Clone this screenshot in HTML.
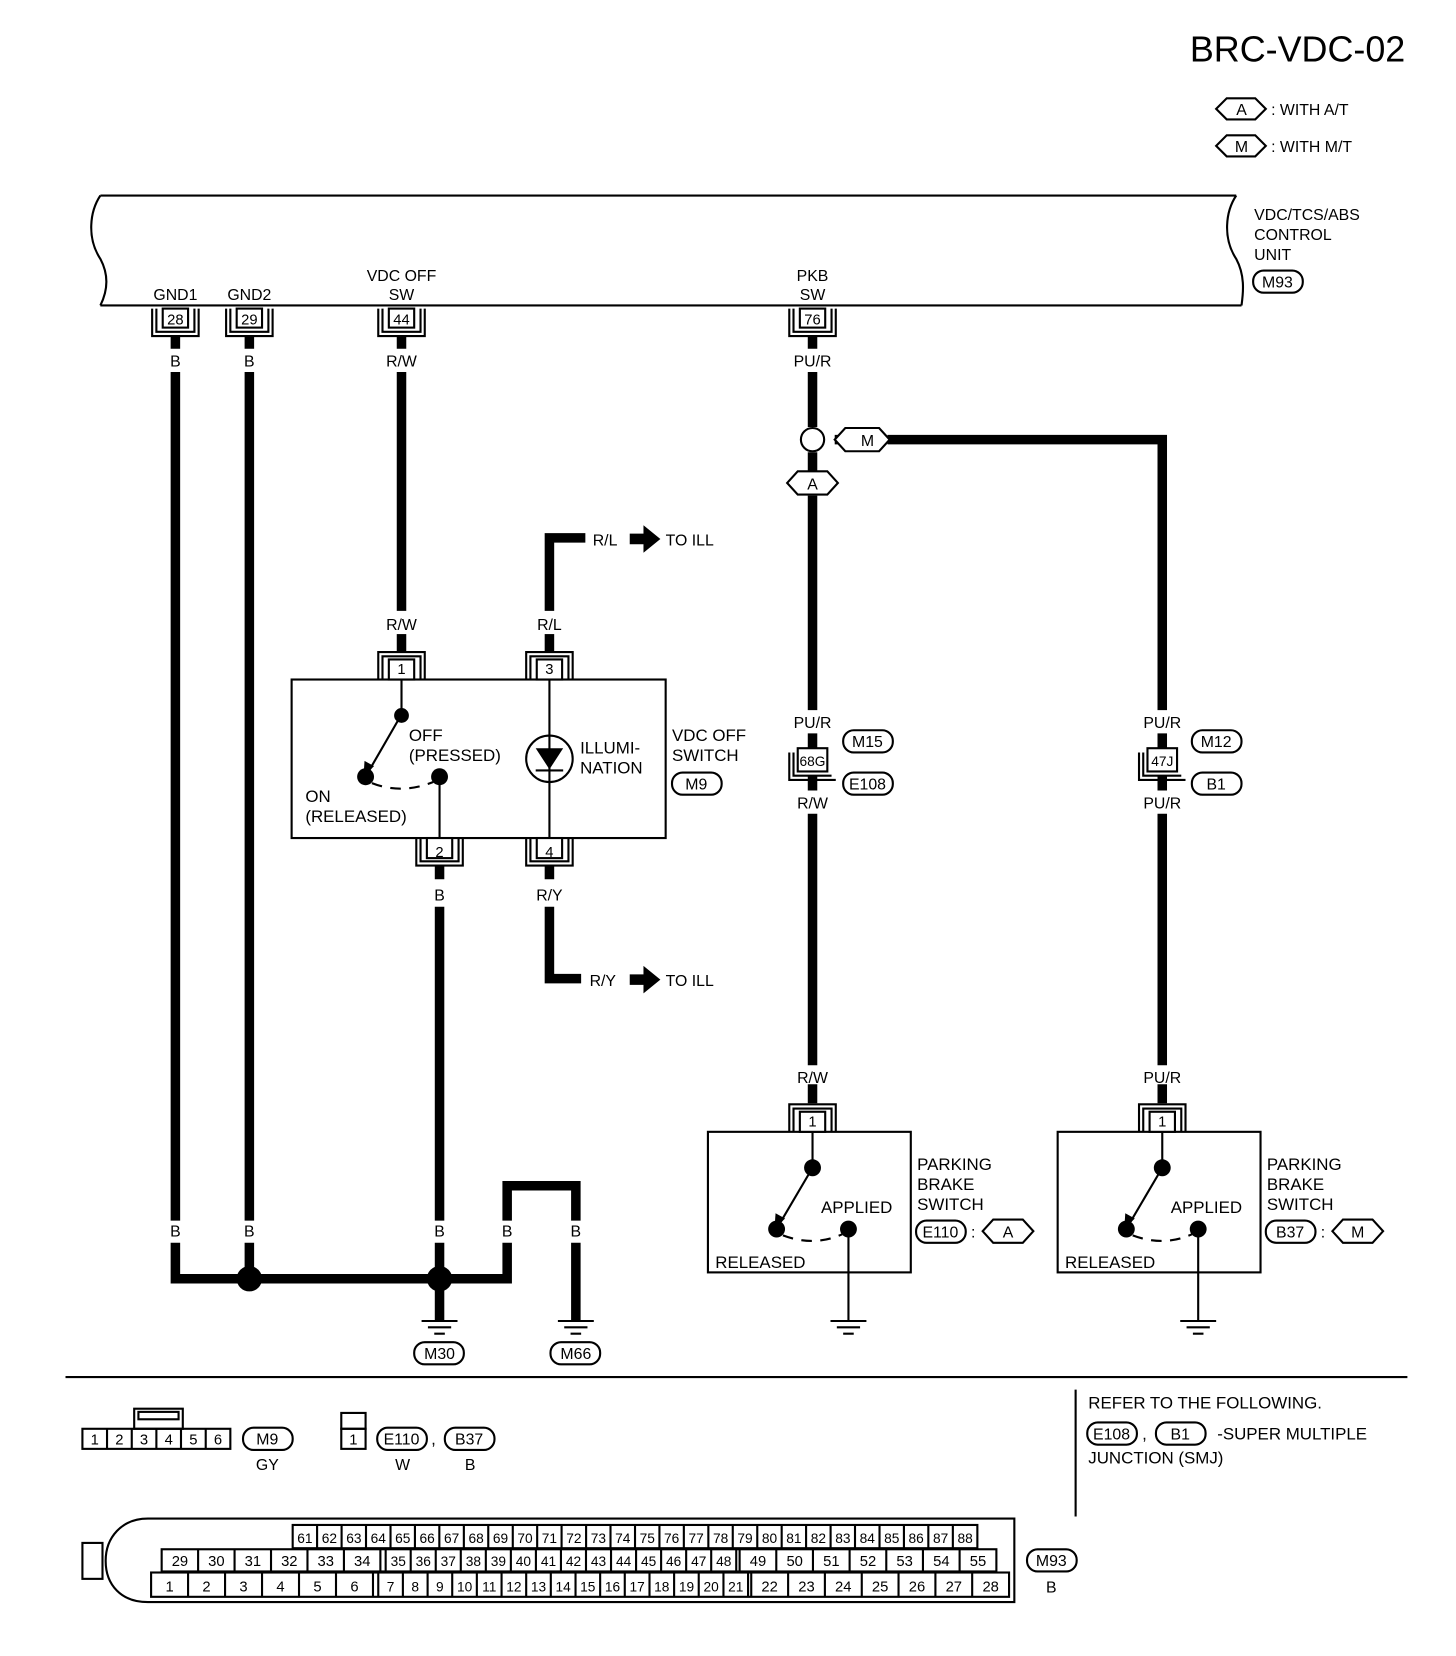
<!DOCTYPE html>
<html><head><meta charset="utf-8"><style>
html,body{margin:0;padding:0;background:#fff}
svg{display:block}
text{font-family:"Liberation Sans",sans-serif;fill:#000}
.t{font-size:16px}
.s{font-size:15px}
.n{font-size:14px;text-anchor:middle}
.nn{font-size:13px;text-anchor:middle}
.c{text-anchor:middle}
.w{stroke:#000;stroke-width:9;fill:none}
.l{stroke:#000;stroke-width:2;fill:none}
.b{stroke:#000;stroke-width:2;fill:#fff}
</style></head><body>
<svg width="1456" height="1656" viewBox="0 0 1378 1567" preserveAspectRatio="none" xmlns="http://www.w3.org/2000/svg">
<defs>
<g id="cd">
<path class="l" d="M-22,292 V318 H22 V292 M-18,292 V314 H18 V292"/>
<rect class="b" x="-12" y="292" width="24" height="18"/>
</g>
<g id="cu">
<path class="l" d="M-22,0 V-26 H22 V0 M-18,0 V-22 H18 V0"/>
<rect class="b" x="-12" y="-19" width="24" height="19"/>
</g>
<g id="cb">
<path class="l" d="M-22,0 V26 H22 V0 M-18,0 V22 H18 V0"/>
<rect class="b" x="-12" y="0" width="24" height="19"/>
</g>
<g id="gnd"><path class="l" stroke-width="3" d="M-17,0 H17 M-11,6 H11 M-5,12 H5"/></g>
</defs>

<text x="1330" y="58" font-size="34" text-anchor="end">BRC-VDC-02</text>
<polygon class="b" points="1151,103 1161,93 1188,93 1198,103 1188,113 1161,113"/>
<text x="1175" y="109" class="c s">A</text>
<text x="1203" y="109" class="s">: WITH A/T</text>
<polygon class="b" points="1151,138 1161,128 1188,128 1198,138 1188,148 1161,148"/>
<text x="1175" y="144" class="c s">M</text>
<text x="1203" y="144" class="s">: WITH M/T</text>

<path class="l" stroke-width="3" d="M95,185 H1170 M95,289 H1175"/>
<path class="l" d="M95,185 C85,200 82,225 95,245 C103,260 102,275 95,289"/>
<path class="l" d="M1170,185 C1160,200 1157,225 1170,245 C1178,260 1177,275 1175,289"/>
<text x="1187" y="208" class="s">VDC/TCS/ABS</text>
<text x="1187" y="227" class="s">CONTROL</text>
<text x="1187" y="246" class="s">UNIT</text>
<rect class="b" x="1186" y="256" width="47" height="21" rx="10"/>
<text x="1209" y="272" class="c s">M93</text>

<text x="166" y="284" class="c s">GND1</text>
<text x="236" y="284" class="c s">GND2</text>
<text x="380" y="266" class="c s">VDC OFF</text>
<text x="380" y="284" class="c s">SW</text>
<text x="769" y="266" class="c s">PKB</text>
<text x="769" y="284" class="c s">SW</text>
<use href="#cd" x="166"/><text x="166" y="307" class="n">28</text>
<use href="#cd" x="236"/><text x="236" y="307" class="n">29</text>
<use href="#cd" x="380"/><text x="380" y="307" class="n">44</text>
<use href="#cd" x="769"/><text x="769" y="307" class="n">76</text>

<path class="w" d="M166,318 V330 M236,318 V330 M380,318 V330 M769,318 V330"/>
<text x="166" y="347" class="c s">B</text>
<text x="236" y="347" class="c s">B</text>
<text x="380" y="347" class="c s">R/W</text>
<text x="769" y="347" class="c s">PU/R</text>
<path class="w" d="M166,352 V1155 M236,352 V1155"/>
<text x="166" y="1170" class="c s">B</text>
<text x="236" y="1170" class="c s">B</text>
<text x="416" y="1170" class="c s">B</text>
<text x="480" y="1170" class="c s">B</text>
<text x="545" y="1170" class="c s">B</text>
<path class="w" d="M166,1176 V1210 H480 V1176 M480,1155 V1122 H545 V1155 M545,1176 V1250 M236,1176 V1210 M416,1176 V1250"/>
<circle cx="236" cy="1210" r="12"/>
<circle cx="416" cy="1210" r="12"/>
<use href="#gnd" x="416" y="1250"/>
<use href="#gnd" x="545" y="1250"/>
<rect class="b" x="392" y="1270" width="47" height="21" rx="10"/><text x="416" y="1286" class="c s">M30</text>
<rect class="b" x="521" y="1270" width="47" height="21" rx="10"/><text x="545" y="1286" class="c s">M66</text>

<path class="w" d="M380,352 V578"/>
<text x="380" y="596" class="c s">R/W</text>
<path class="w" d="M380,600 V616"/>
<path class="w" d="M520,578 V509 H554"/>
<text x="520" y="596" class="c s">R/L</text>
<path class="w" d="M520,600 V616"/>
<text x="561" y="516" class="s">R/L</text>
<polygon points="596,505 609,505 609,497 625,510 609,523 609,515 596,515"/>
<text x="630" y="516" class="s">TO ILL</text>
<rect class="l" x="276" y="643" width="354" height="150"/>
<use href="#cu" x="380" y="643"/><text x="380" y="638" class="n">1</text>
<use href="#cu" x="520" y="643"/><text x="520" y="638" class="n">3</text>
<use href="#cb" x="416" y="793"/><text x="416" y="811" class="n">2</text>
<use href="#cb" x="520" y="793"/><text x="520" y="811" class="n">4</text>
<path class="l" d="M380,643 V676 L350,728"/>
<polygon points="344,735 345,720 354,725"/>
<circle cx="380" cy="677" r="7"/>
<circle cx="346" cy="735" r="8"/>
<circle cx="416" cy="735" r="8"/>
<path class="l" d="M352,741 Q380,752 410,740" stroke-dasharray="10,8"/>
<path class="l" d="M416,735 V793"/>
<text x="387" y="701" class="t">OFF</text>
<text x="387" y="720" class="t">(PRESSED)</text>
<text x="289" y="759" class="t">ON</text>
<text x="289" y="778" class="t">(RELEASED)</text>
<path class="l" d="M520,643 V793"/>
<circle class="l" cx="520" cy="718" r="22"/>
<polygon points="507,708 533,708 520,728"/>
<path class="l" d="M507,729 H533"/>
<text x="549" y="713" class="t">ILLUMI-</text>
<text x="549" y="732" class="t">NATION</text>
<text x="636" y="701" class="t">VDC OFF</text>
<text x="636" y="720" class="t">SWITCH</text>
<rect class="b" x="636" y="731" width="47" height="21" rx="10"/><text x="659" y="747" class="c s">M9</text>
<path class="w" d="M416,819 V832 M520,819 V832"/>
<text x="416" y="852" class="c s">B</text>
<text x="520" y="852" class="c s">R/Y</text>
<path class="w" d="M416,858 V1155 M520,858 V926 H550"/>
<text x="558" y="933" class="s">R/Y</text>
<polygon points="596,922 609,922 609,914 625,927 609,940 609,932 596,932"/>
<text x="630" y="933" class="s">TO ILL</text>

<path class="w" d="M769,352 V404 M769,428 V446 M769,469 V672 M790,416 H804 M840,416 H1100 V672"/>
<circle class="l" cx="769" cy="416" r="11"/>
<polygon class="b" points="790,416 800,405 832,405 842,416 832,427 800,427"/>
<text x="821" y="422" class="c s">M</text>
<polygon class="b" points="745,457 755,446 783,446 793,457 783,468 755,468"/>
<text x="769" y="463" class="c s">A</text>

<text x="769" y="689" class="c s">PU/R</text>
<path class="w" d="M769,694 V708 M769,734 V748"/>
<path class="l" d="M747,712 V738 H791 M751,712 V734 H787"/>
<rect class="b" x="755" y="708" width="28" height="22"/><text x="769" y="725" class="nn">68G</text>
<rect class="b" x="798" y="691" width="47" height="21" rx="10"/><text x="821" y="707" class="c s">M15</text>
<rect class="b" x="798" y="731" width="47" height="21" rx="10"/><text x="821" y="747" class="c s">E108</text>
<text x="769" y="765" class="c s">R/W</text>
<path class="w" d="M769,770 V1008 M769,1026 V1044"/>
<text x="769" y="1025" class="c s">R/W</text>

<text x="1100" y="689" class="c s">PU/R</text>
<path class="w" d="M1100,694 V708 M1100,734 V748"/>
<path class="l" d="M1078,712 V738 H1122 M1082,712 V734 H1118"/>
<rect class="b" x="1086" y="708" width="28" height="22"/><text x="1100" y="725" class="nn">47J</text>
<rect class="b" x="1128" y="691" width="47" height="21" rx="10"/><text x="1151" y="707" class="c s">M12</text>
<rect class="b" x="1128" y="731" width="47" height="21" rx="10"/><text x="1151" y="747" class="c s">B1</text>
<text x="1100" y="765" class="c s">PU/R</text>
<path class="w" d="M1100,770 V1008 M1100,1026 V1044"/>
<text x="1100" y="1025" class="c s">PU/R</text>

<g>
<rect class="l" x="670" y="1071" width="192" height="133"/>
<use href="#cu" x="769" y="1071"/><text x="769" y="1066" class="n">1</text>
<path class="l" d="M769,1071 V1105 L739,1156"/>
<polygon points="733,1163 734,1148 743,1153"/>
<circle cx="769" cy="1105" r="8"/>
<circle cx="735" cy="1163" r="8"/>
<circle cx="803" cy="1163" r="8"/>
<path class="l" d="M741,1169 Q770,1180 797,1168" stroke-dasharray="10,8"/>
<path class="l" d="M803,1163 V1250"/>
<use href="#gnd" x="803" y="1250"/>
<text x="777" y="1148" class="t">APPLIED</text>
<text x="677" y="1200" class="t">RELEASED</text>
<text x="868" y="1107" class="t">PARKING</text>
<text x="868" y="1126" class="t">BRAKE</text>
<text x="868" y="1145" class="t">SWITCH</text>
<rect class="b" x="867" y="1155" width="47" height="21" rx="10"/><text x="890" y="1171" class="c s">E110</text>
<text x="919" y="1171" class="s">:</text>
<polygon class="b" points="930,1165 940,1154 968,1154 978,1165 968,1176 940,1176"/>
<text x="954" y="1171" class="c s">A</text>
</g>
<g transform="translate(331,0)">
<rect class="l" x="670" y="1071" width="192" height="133"/>
<use href="#cu" x="769" y="1071"/><text x="769" y="1066" class="n">1</text>
<path class="l" d="M769,1071 V1105 L739,1156"/>
<polygon points="733,1163 734,1148 743,1153"/>
<circle cx="769" cy="1105" r="8"/>
<circle cx="735" cy="1163" r="8"/>
<circle cx="803" cy="1163" r="8"/>
<path class="l" d="M741,1169 Q770,1180 797,1168" stroke-dasharray="10,8"/>
<path class="l" d="M803,1163 V1250"/>
<use href="#gnd" x="803" y="1250"/>
<text x="777" y="1148" class="t">APPLIED</text>
<text x="677" y="1200" class="t">RELEASED</text>
<text x="868" y="1107" class="t">PARKING</text>
<text x="868" y="1126" class="t">BRAKE</text>
<text x="868" y="1145" class="t">SWITCH</text>
<rect class="b" x="867" y="1155" width="47" height="21" rx="10"/><text x="890" y="1171" class="c s">B37</text>
<text x="919" y="1171" class="s">:</text>
<polygon class="b" points="930,1165 940,1154 968,1154 978,1165 968,1176 940,1176"/>
<text x="954" y="1171" class="c s">M</text>
</g>

<path class="l" d="M62,1303 H1332 M1018,1315 V1435"/>
<text x="1030" y="1333" class="t">REFER TO THE FOLLOWING.</text>
<rect class="b" x="1029" y="1346" width="47" height="21" rx="10"/><text x="1052" y="1362" class="c s">E108</text>
<text x="1081" y="1362" class="t">,</text>
<rect class="b" x="1094" y="1346" width="47" height="21" rx="10"/><text x="1117" y="1362" class="c s">B1</text>
<text x="1152" y="1362" class="t">-SUPER MULTIPLE</text>
<text x="1030" y="1385" class="t">JUNCTION (SMJ)</text>

<rect class="l" x="127" y="1333" width="46" height="19"/>
<rect class="l" x="131" y="1336" width="38" height="7"/>
<rect class="l" x="78" y="1352" width="140" height="19"/>
<path class="l" d="M101.3,1352 V1371 M124.7,1352 V1371 M148,1352 V1371 M171.3,1352 V1371 M194.7,1352 V1371"/>
<text x="89.7" y="1367" class="n">1</text><text x="113" y="1367" class="n">2</text><text x="136.3" y="1367" class="n">3</text><text x="159.7" y="1367" class="n">4</text><text x="183" y="1367" class="n">5</text><text x="206.3" y="1367" class="n">6</text>
<rect class="b" x="230" y="1351" width="47" height="21" rx="10"/><text x="253" y="1367" class="c s">M9</text>
<text x="253" y="1391" class="c s">GY</text>
<rect class="l" x="323" y="1337" width="23" height="15"/>
<rect class="l" x="323" y="1352" width="23" height="19"/>
<text x="334.5" y="1367" class="n">1</text>
<rect class="b" x="357" y="1351" width="47" height="21" rx="10"/><text x="380" y="1367" class="c s">E110</text>
<text x="408" y="1367" class="t">,</text>
<rect class="b" x="421" y="1351" width="47" height="21" rx="10"/><text x="444" y="1367" class="c s">B37</text>
<text x="381" y="1391" class="c s">W</text>
<text x="445" y="1391" class="c s">B</text>

<path class="l" stroke-width="2.5" d="M140,1437 H960 V1516 H140 C115,1516 100,1500 100,1477 C100,1455 115,1437 140,1437 Z"/>
<rect class="l" x="78" y="1460" width="19" height="34"/>
<rect class="l" x="277" y="1443" width="648" height="22"/>
<rect class="l" x="153" y="1466" width="790" height="21"/>
<rect class="l" x="143" y="1488" width="812" height="23"/>
<path class="l" stroke-width="1.5" d="M300.1,1443V1465M323.3,1443V1465M346.4,1443V1465M369.6,1443V1465M392.7,1443V1465M415.8,1443V1465M439,1443V1465M462.1,1443V1465M485.3,1443V1465M508.4,1443V1465M531.5,1443V1465M554.7,1443V1465M577.8,1443V1465M601,1443V1465M624.1,1443V1465M647.2,1443V1465M670.4,1443V1465M693.5,1443V1465M716.7,1443V1465M739.8,1443V1465M762.9,1443V1465M786.1,1443V1465M809.2,1443V1465M832.4,1443V1465M855.5,1443V1465M878.6,1443V1465M901.8,1443V1465
M187.5,1466V1487M222,1466V1487M256.5,1466V1487M291,1466V1487M325.5,1466V1487M360,1466V1487M365,1466V1487M388.7,1466V1487M412.4,1466V1487M436.1,1466V1487M459.8,1466V1487M483.5,1466V1487M507.2,1466V1487M530.9,1466V1487M554.6,1466V1487M578.3,1466V1487M602,1466V1487M625.7,1466V1487M649.4,1466V1487M673.1,1466V1487M696.8,1466V1487M700,1466V1487M734.7,1466V1487M769.4,1466V1487M804.1,1466V1487M838.8,1466V1487M873.5,1466V1487M908.2,1466V1487
M178,1488V1511M213,1488V1511M248,1488V1511M283,1488V1511M318,1488V1511M353,1488V1511M358,1488V1511M381.3,1488V1511M404.7,1488V1511M428,1488V1511M451.3,1488V1511M474.7,1488V1511M498,1488V1511M521.3,1488V1511M544.7,1488V1511M568,1488V1511M591.3,1488V1511M614.7,1488V1511M638,1488V1511M661.3,1488V1511M684.7,1488V1511M708,1488V1511M711,1488V1511M745.9,1488V1511M780.7,1488V1511M815.6,1488V1511M850.4,1488V1511M885.3,1488V1511M920.1,1488V1511"/>
<text x="288.6" y="1460" class="nn">61</text><text x="311.7" y="1460" class="nn">62</text><text x="334.9" y="1460" class="nn">63</text><text x="358" y="1460" class="nn">64</text><text x="381.2" y="1460" class="nn">65</text><text x="404.3" y="1460" class="nn">66</text><text x="427.4" y="1460" class="nn">67</text><text x="450.6" y="1460" class="nn">68</text><text x="473.7" y="1460" class="nn">69</text><text x="496.9" y="1460" class="nn">70</text><text x="520" y="1460" class="nn">71</text><text x="543.1" y="1460" class="nn">72</text><text x="566.3" y="1460" class="nn">73</text><text x="589.4" y="1460" class="nn">74</text><text x="612.6" y="1460" class="nn">75</text><text x="635.7" y="1460" class="nn">76</text><text x="658.8" y="1460" class="nn">77</text><text x="682" y="1460" class="nn">78</text><text x="705.1" y="1460" class="nn">79</text><text x="728.3" y="1460" class="nn">80</text><text x="751.4" y="1460" class="nn">81</text><text x="774.5" y="1460" class="nn">82</text><text x="797.7" y="1460" class="nn">83</text><text x="820.8" y="1460" class="nn">84</text><text x="844" y="1460" class="nn">85</text><text x="867.1" y="1460" class="nn">86</text><text x="890.2" y="1460" class="nn">87</text><text x="913.4" y="1460" class="nn">88</text>
<text x="170.3" y="1482" class="n">29</text><text x="204.8" y="1482" class="n">30</text><text x="239.3" y="1482" class="n">31</text><text x="273.8" y="1482" class="n">32</text><text x="308.3" y="1482" class="n">33</text><text x="342.8" y="1482" class="n">34</text>
<text x="376.9" y="1482" class="nn">35</text><text x="400.6" y="1482" class="nn">36</text><text x="424.3" y="1482" class="nn">37</text><text x="448" y="1482" class="nn">38</text><text x="471.7" y="1482" class="nn">39</text><text x="495.4" y="1482" class="nn">40</text><text x="519.1" y="1482" class="nn">41</text><text x="542.8" y="1482" class="nn">42</text><text x="566.5" y="1482" class="nn">43</text><text x="590.2" y="1482" class="nn">44</text><text x="613.9" y="1482" class="nn">45</text><text x="637.6" y="1482" class="nn">46</text><text x="661.3" y="1482" class="nn">47</text><text x="685" y="1482" class="nn">48</text>
<text x="717.4" y="1482" class="n">49</text><text x="752.1" y="1482" class="n">50</text><text x="786.8" y="1482" class="n">51</text><text x="821.5" y="1482" class="n">52</text><text x="856.2" y="1482" class="n">53</text><text x="890.9" y="1482" class="n">54</text><text x="925.6" y="1482" class="n">55</text>
<text x="160.5" y="1506" class="n">1</text><text x="195.5" y="1506" class="n">2</text><text x="230.5" y="1506" class="n">3</text><text x="265.5" y="1506" class="n">4</text><text x="300.5" y="1506" class="n">5</text><text x="335.5" y="1506" class="n">6</text>
<text x="369.7" y="1506" class="nn">7</text><text x="393" y="1506" class="nn">8</text><text x="416.3" y="1506" class="nn">9</text><text x="439.7" y="1506" class="nn">10</text><text x="463" y="1506" class="nn">11</text><text x="486.3" y="1506" class="nn">12</text><text x="509.7" y="1506" class="nn">13</text><text x="533" y="1506" class="nn">14</text><text x="556.3" y="1506" class="nn">15</text><text x="579.7" y="1506" class="nn">16</text><text x="603" y="1506" class="nn">17</text><text x="626.3" y="1506" class="nn">18</text><text x="649.7" y="1506" class="nn">19</text><text x="673" y="1506" class="nn">20</text><text x="696.3" y="1506" class="nn">21</text>
<text x="728.4" y="1506" class="n">22</text><text x="763.3" y="1506" class="n">23</text><text x="798.1" y="1506" class="n">24</text><text x="833" y="1506" class="n">25</text><text x="867.9" y="1506" class="n">26</text><text x="902.7" y="1506" class="n">27</text><text x="937.6" y="1506" class="n">28</text>
<rect class="b" x="972" y="1466" width="47" height="21" rx="10"/><text x="995" y="1482" class="c s">M93</text>
<text x="995" y="1507" class="c s">B</text>
</svg>
</body></html>
